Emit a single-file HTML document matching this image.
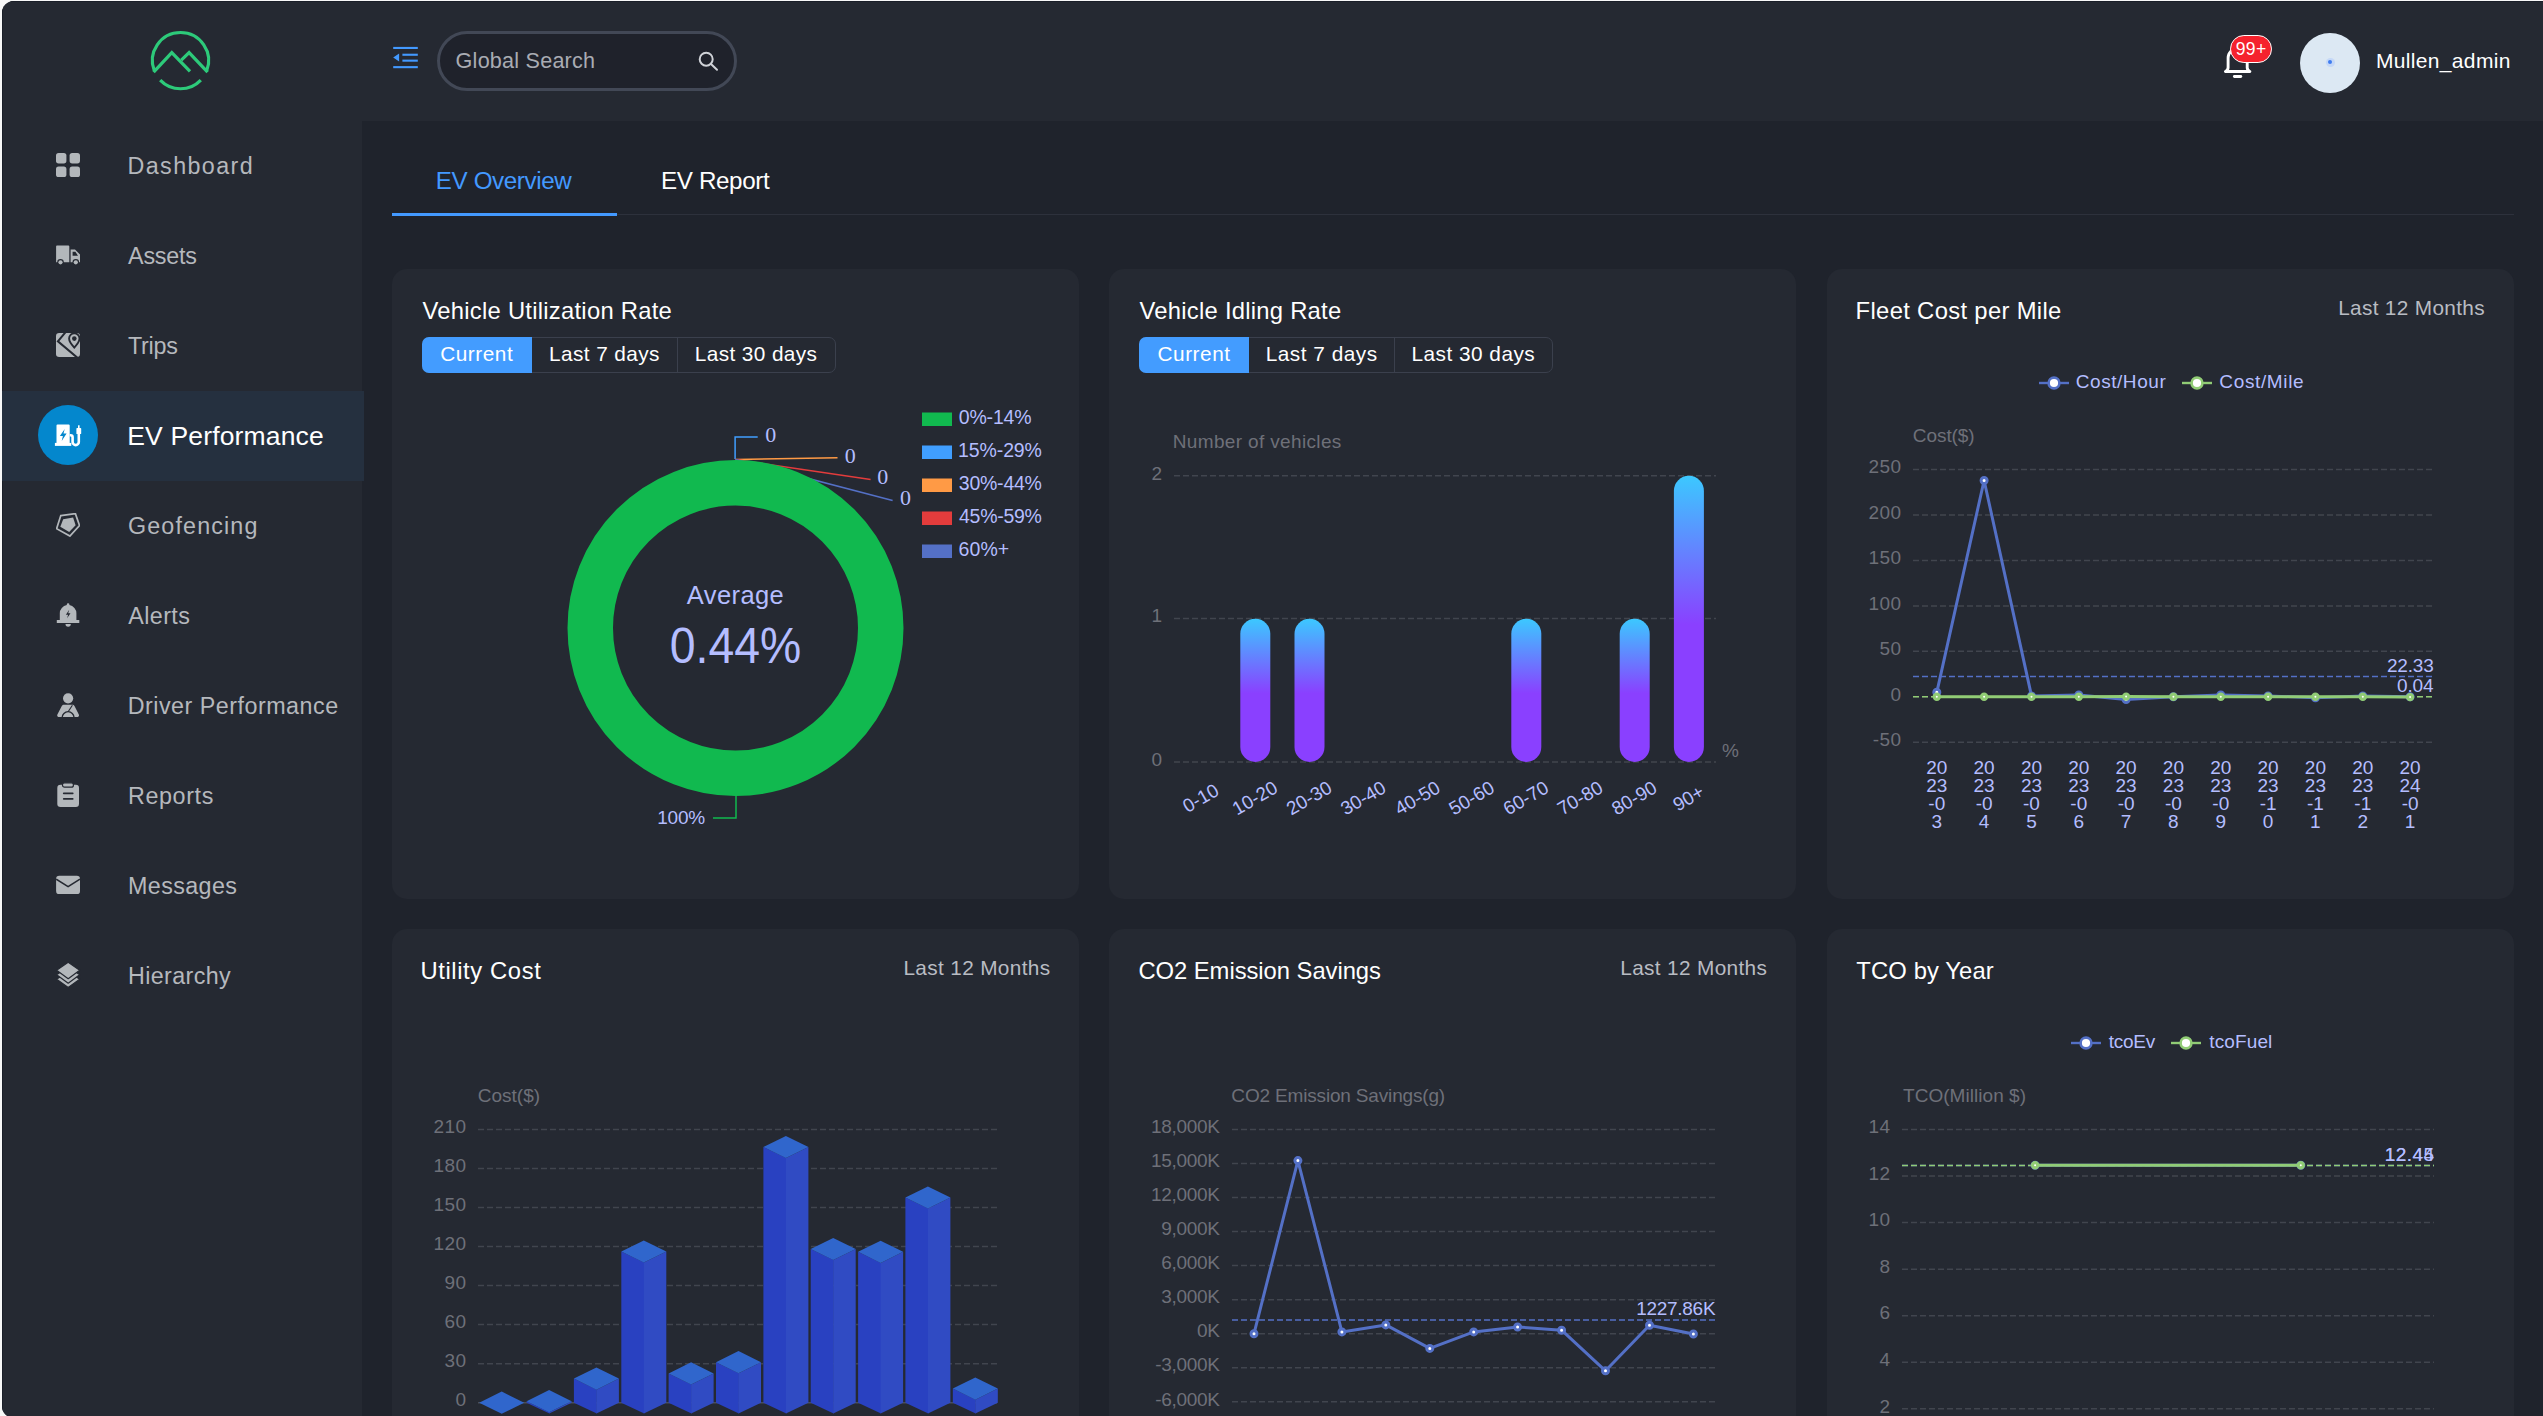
<!DOCTYPE html><html lang="en"><head><meta charset="utf-8"><title>EV Performance</title>
<style>
*{box-sizing:border-box;margin:0;padding:0}
html,body{width:2543px;height:1416px;overflow:hidden;background:#f8f8f8}
body{font-family:"Liberation Sans", sans-serif;color:#fff;position:relative}
#frame{position:absolute;left:2px;top:1px;width:2543px;height:1417px;background:#1f232c;border-radius:12px 0 0 12px;overflow:hidden}
#pg{position:absolute;left:-2px;top:-1px;width:2543px;height:1416px}
.a{position:absolute}
.t{position:absolute;white-space:nowrap}
.card{position:absolute;background:#252932;border-radius:15px;width:687px}
.bg{position:absolute;height:36px;border:1px solid #3b404d;border-radius:7px}
.bg i{position:absolute;top:0;width:1px;height:34px;background:#3b404d}
.bg b{position:absolute;left:-1px;top:-1px;height:36px;background:#439cff;border-radius:7px 0 0 7px}
svg text{font-family:"Liberation Sans", sans-serif}
</style></head><body><div id="frame"><div id="pg">
<div class="a" style="left:0;top:0;width:362px;height:1416px;background:#252932"></div>
<div class="a" style="left:362px;top:0;width:2181px;height:121px;background:#252932"></div>
<div class="a" style="left:2px;top:1px;width:2543px;height:1px;background:#1a1e28"></div>
<div class="a" style="left:2px;top:1px;width:1px;height:1416px;background:#1a1e28"></div>
<svg class="a" style="left:0;top:0" width="362" height="121" fill="none" stroke="#2dca7a" stroke-width="3.2"><path d="M154.4 71.0A28.1 28.1 0 1 1 206.6 71.0"/><path d="M160.2 80.1A28.1 28.1 0 0 0 200.8 80.1"/><path d="M153.6 72.2L171.8 52.6L190 71.4"/><path d="M181.3 60.2L189.1 52.6L207.6 72.2"/></svg>
<div class="a" style="left:56px;top:152.8px;height:24px"><svg width="24" height="24" viewBox="0 0 24 24" fill="#b3b7bb"><rect x="0" y="0" width="10.4" height="10.4" rx="2.6"/><rect x="13.6" y="0" width="10.4" height="10.4" rx="2.6"/><rect x="0" y="13.6" width="10.4" height="10.4" rx="2.6"/><rect x="13.6" y="13.6" width="10.4" height="10.4" rx="2.6"/></svg></div>
<div class="t" style="left:127.54px;top:146.07px;line-height:40px;font-size:23.3px;letter-spacing:1.398px;color:#b5b8bd">Dashboard</div>
<div class="a" style="left:56px;top:242.8px;height:24px"><svg width="24" height="24" viewBox="0 0 24 24" fill="#b3b7bb"><path d="M1 2.500h11.400a.9.9 0 0 1 .9.900V19.200H.1V3.400a.9.900 0 0 1 .9-.9z"/><path d="M14.600 6.500H19l5 5.100v7.600h-9.400zM16.600 8.700v4h5.400l-2.600-4z" fill-rule="evenodd"/><circle cx="4.500" cy="19.300" r="3.300" fill="#252932"/><circle cx="19.800" cy="19.300" r="3.300" fill="#252932"/><circle cx="4.500" cy="19.300" r="2.100"/><circle cx="19.800" cy="19.300" r="2.100"/></svg></div>
<div class="t" style="left:128.10px;top:236.07px;line-height:40px;font-size:23.3px;letter-spacing:-0.217px;color:#b5b8bd">Assets</div>
<div class="a" style="left:56px;top:332.8px;height:24px"><svg width="24" height="24" viewBox="0 0 24 24" fill="#b3b7bb"><rect x="0" y="0" width="24" height="24" rx="3.200"/><path d="M9.400 -0.600L1.900 8.300 21.200 24.600" fill="none" stroke="#252932" stroke-width="2"/><path d="M18.300 .4a5.200 5.200 0 0 0-5.200 5.200c0 3.500 5.200 9 5.200 9s5.200-5.500 5.200-9A5.200 5.200 0 0 0 18.300 .4z" stroke="#252932" stroke-width="1.900"/><circle cx="18.300" cy="5.600" r="2.300" fill="#252932"/></svg></div>
<div class="t" style="left:127.93px;top:326.07px;line-height:40px;font-size:23.3px;letter-spacing:-0.232px;color:#b5b8bd">Trips</div>
<div class="a" style="left:2px;top:391px;width:362px;height:90px;background:#25303f"></div>
<div class="a" style="left:38px;top:405px;width:60px;height:60px;border-radius:50%;background:#0487cd"></div>
<div class="a" style="left:55px;top:422px;width:26px;height:26px"><svg width="26" height="26" viewBox="0 0 26 26" fill="#fff" style="overflow:visible"><path d="M2.500 2.400h11.200a1 1 0 0 1 1 1V21.500H1.500V3.400a1 1 0 0 1 1-1z"/><rect x="-.1" y="20.900" width="16.400" height="3"/><path d="M9.700 6.900L4.900 13.900h3l-1.200 5 4.900-7.300H8.500z" fill="#0487cd"/><path d="M14.700 13.300h.9a2 2 0 0 1 2 2v4.700a3.100 3.100 0 0 0 6.200 0v-8.500" fill="none" stroke="#fff" stroke-width="2.600"/><rect x="21.400" y="6.100" width="4.800" height="6" rx=".7"/><rect x="23" y="3.300" width="1.600" height="3.200"/></svg></div>
<div class="t" style="left:127.28px;top:416.10px;line-height:40px;font-size:26.5px;letter-spacing:0.159px;color:#fff">EV Performance</div>
<div class="a" style="left:56px;top:512.8px;height:24px"><svg width="24" height="24" viewBox="0 0 24 24" fill="#b3b7bb"><path d="M4.800 2.600L19.400 .6 23.500 12.500 13.900 23.100 .6 15.700z" fill="none" stroke="#b3b7bb" stroke-width="1.700"/><path d="M7.200 6.300L17.100 4.600 19.600 12.200 13.200 19.100 4.300 13.700z"/></svg></div>
<div class="t" style="left:128.03px;top:506.07px;line-height:40px;font-size:23.3px;letter-spacing:1.138px;color:#b5b8bd">Geofencing</div>
<div class="a" style="left:56px;top:602.8px;height:24px"><svg width="24" height="24" viewBox="0 0 24 24" fill="#b3b7bb"><path d="M12.100 .2a1.300 1.300 0 0 1 1.300 1.300v.6a8.300 8.300 0 0 1 7 8.200v6.600h2.900v3.200H.8v-3.200h3v-6.600a8.300 8.300 0 0 1 7-8.200v-.6A1.300 1.300 0 0 1 12.100 .2z"/><path d="M13.200 6.800l-3.300 4.900h2.200l-1 3.600 3.400-5h-2.300z" fill="#252932"/><path d="M9.500 21.100h5.300a2.650 2.650 0 0 1-5.300 0z"/></svg></div>
<div class="t" style="left:128.20px;top:596.07px;line-height:40px;font-size:23.3px;letter-spacing:0.437px;color:#b5b8bd">Alerts</div>
<div class="a" style="left:56px;top:692.8px;height:24px"><svg width="24" height="24" viewBox="0 0 24 24" fill="#b3b7bb"><circle cx="12.100" cy="5.300" r="5.100"/><path d="M8.100 11.700h8.100c1 0 1.800.5 2.300 1.400l4.300 8.300c.7 1.300-.2 2.700-1.600 2.700H3c-1.400 0-2.300-1.400-1.600-2.700l4.400-8.300c.5-.9 1.300-1.400 2.300-1.400z"/><path d="M6.200 24.600a5.900 5.900 0 0 1 11.800 0" fill="none" stroke="#252932" stroke-width="1.300"/><path d="M16.400 12.200L12.100 18.700" stroke="#252932" stroke-width="1.100"/></svg></div>
<div class="t" style="left:127.74px;top:686.07px;line-height:40px;font-size:23.3px;letter-spacing:0.494px;color:#b5b8bd">Driver Performance</div>
<div class="a" style="left:56px;top:782.8px;height:24px"><svg width="24" height="24" viewBox="0 0 24 24" fill="#b3b7bb" style="overflow:visible"><rect x="1.300" y="1.800" width="21.700" height="22.200" rx="3.200"/><rect x="6.500" y="-.2" width="10.900" height="4.400" rx="2" stroke="#252932" stroke-width="1.200"/><rect x="6.900" y="9.600" width="10.700" height="1.700" rx=".8" fill="#252932"/><rect x="6.900" y="15.100" width="10.700" height="1.700" rx=".8" fill="#252932"/></svg></div>
<div class="t" style="left:127.94px;top:776.07px;line-height:40px;font-size:23.3px;letter-spacing:0.629px;color:#b5b8bd">Reports</div>
<div class="a" style="left:56px;top:872.8px;height:24px"><svg width="24" height="24" viewBox="0 0 24 24" fill="#b3b7bb"><rect x=".1" y="2.800" width="23.900" height="18.300" rx="3.200"/><path d="M.2 6.100L12.100 13.700 24 6.100" fill="none" stroke="#252932" stroke-width="1.600" stroke-linejoin="round"/></svg></div>
<div class="t" style="left:127.94px;top:866.07px;line-height:40px;font-size:23.3px;letter-spacing:0.413px;color:#b5b8bd">Messages</div>
<div class="a" style="left:56px;top:962.8px;height:24px"><svg width="24" height="24" viewBox="0 0 24 24" fill="#b3b7bb" stroke="#252932" stroke-width="1.200" stroke-linejoin="round" style="overflow:visible"><path d="M12.200 8.2L23.700 16.2 12.200 24.6 .6 16.2z"/><path d="M12.200 3.8L23.700 11.8 12.200 20.2 .6 11.8z"/><path d="M12.200 -0.7L23.700 7.3 12.200 15.7 .6 7.3z"/></svg></div>
<div class="t" style="left:127.94px;top:956.07px;line-height:40px;font-size:23.3px;letter-spacing:0.38px;color:#b5b8bd">Hierarchy</div>
<svg class="a" style="left:392px;top:45px" width="28" height="26" viewBox="392 45 28 26" fill="#4399ff"><rect x="393.200" y="46.900" width="24.600" height="2.100"/><rect x="402.400" y="53.700" width="15.400" height="2.100"/><rect x="402.400" y="59.600" width="15.400" height="2.100"/><rect x="393.200" y="66.100" width="24.600" height="2.100"/><path d="M393.200 57.600l5.900-4v8z"/></svg>
<div class="a" style="left:437px;top:31px;width:300px;height:60px;border:3px solid #424856;border-radius:30px;background:#1f222b"></div>
<div class="t" style="left:455.62px;top:40.65px;line-height:40px;font-size:21.6px;letter-spacing:0.216px;color:#a9acb3">Global Search</div>
<svg class="a" style="left:694px;top:47px" width="28" height="28" viewBox="694 47 28 28" fill="none" stroke="#cfd2d7" stroke-width="2"><circle cx="706.200" cy="59.200" r="6.500"/><path d="M711 64l6 5.800" stroke-linecap="round"/></svg>
<svg class="a" style="left:2220px;top:40px" width="36" height="42" viewBox="2220 40 36 42" fill="none" stroke="#fff" stroke-width="2.900" stroke-linejoin="round" stroke-linecap="round"><path d="M2225.400 71.500c1.800-.8 2.700-2 2.700-4V58a9.550 9.550 0 0 1 19.100 0v9.500c0 2 .9 3.200 2.700 4z"/><path d="M2234.400 76.500h6.400"/></svg>
<div class="a" style="left:2230px;top:34.900px;width:42.300px;height:27.800px;border-radius:13.900px;background:#f5222d;border:1.800px solid #fff"></div>
<div class="t" style="left:2235.71px;top:29.10px;line-height:40px;font-size:17.5px;letter-spacing:0.378px;color:#fff">99+</div>
<div class="a" style="left:2300px;top:33px;width:60px;height:60px;border-radius:50%;background:#dce8f3"></div>
<div class="a" style="left:2325.500px;top:57.500px;width:9px;height:9px;border-radius:50%;background:#c5d8f7"></div>
<div class="a" style="left:2328px;top:60px;width:4px;height:4px;border-radius:50%;background:#3f7cf0"></div>
<div class="t" style="left:2375.92px;top:41.04px;line-height:40px;font-size:21px;letter-spacing:0.343px;color:#fff">Mullen_admin</div>
<div class="a" style="left:392px;top:214px;width:2122px;height:1px;background:#2d313c"></div>
<div class="a" style="left:392px;top:213px;width:225px;height:3px;background:#4399ff"></div>
<div class="t" style="left:435.86px;top:161.28px;line-height:40px;font-size:24.2px;letter-spacing:-0.39px;color:#4399ff">EV Overview</div>
<div class="t" style="left:661.06px;top:161.28px;line-height:40px;font-size:24.2px;letter-spacing:-0.371px;color:#fff">EV Report</div>
<div class="card" style="left:392px;top:269px;height:630px"></div>
<div class="card" style="left:1109px;top:269px;height:630px"></div>
<div class="card" style="left:1827px;top:269px;height:630px"></div>
<div class="card" style="left:392px;top:929px;height:520px"></div>
<div class="card" style="left:1109px;top:929px;height:520px"></div>
<div class="card" style="left:1827px;top:929px;height:520px"></div>
<div class="t" style="left:422.54px;top:290.97px;line-height:40px;font-size:23.8px;letter-spacing:0.255px;color:#fff">Vehicle Utilization Rate</div>
<div class="t" style="left:1139.54px;top:290.97px;line-height:40px;font-size:23.8px;letter-spacing:0.253px;color:#fff">Vehicle Idling Rate</div>
<div class="t" style="left:1855.60px;top:290.97px;line-height:40px;font-size:23.8px;letter-spacing:0.335px;color:#fff">Fleet Cost per Mile</div>
<div class="t" style="left:420.41px;top:950.97px;line-height:40px;font-size:23.8px;letter-spacing:0.609px;color:#fff">Utility Cost</div>
<div class="t" style="left:1138.41px;top:950.97px;line-height:40px;font-size:23.8px;letter-spacing:-0.042px;color:#fff">CO2 Emission Savings</div>
<div class="t" style="left:1856.32px;top:950.97px;line-height:40px;font-size:23.8px;letter-spacing:0.118px;color:#fff">TCO by Year</div>
<div class="t" style="left:2338.14px;top:288.24px;line-height:40px;font-size:20.8px;letter-spacing:0.329px;color:#b9bcc3">Last 12 Months</div>
<div class="t" style="left:903.44px;top:948.24px;line-height:40px;font-size:20.8px;letter-spacing:0.344px;color:#b9bcc3">Last 12 Months</div>
<div class="t" style="left:1620.24px;top:948.24px;line-height:40px;font-size:20.8px;letter-spacing:0.344px;color:#b9bcc3">Last 12 Months</div>
<div class="bg" style="left:422px;top:337px;width:414px"><b style="width:110px"></b><i style="left:254px"></i></div>
<div class="t" style="left:440.26px;top:333.64px;line-height:40px;font-size:20.8px;letter-spacing:0.513px;color:#fff">Current</div>
<div class="t" style="left:549.04px;top:333.64px;line-height:40px;font-size:20.8px;letter-spacing:0.41px;color:#fff">Last 7 days</div>
<div class="t" style="left:694.84px;top:333.64px;line-height:40px;font-size:20.8px;letter-spacing:0.387px;color:#fff">Last 30 days</div>
<div class="bg" style="left:1139px;top:337px;width:414px"><b style="width:110px"></b><i style="left:254px"></i></div>
<div class="t" style="left:1157.46px;top:333.64px;line-height:40px;font-size:20.8px;letter-spacing:0.546px;color:#fff">Current</div>
<div class="t" style="left:1265.64px;top:333.64px;line-height:40px;font-size:20.8px;letter-spacing:0.51px;color:#fff">Last 7 days</div>
<div class="t" style="left:1411.44px;top:333.64px;line-height:40px;font-size:20.8px;letter-spacing:0.487px;color:#fff">Last 30 days</div>
<svg class="a" style="left:0;top:0" width="2543" height="1416" viewBox="0 0 2543 1416"><defs><linearGradient id="gb" x1="0" y1="0" x2="0" y2="1"><stop offset="0" stop-color="#3cc8ff"/><stop offset="0.52" stop-color="#8a40ff"/><stop offset="1" stop-color="#8a40ff"/></linearGradient></defs><polyline points="735.1,459 735.1,437.1 757.700,437.1" fill="none" stroke="#409eff" stroke-width="1.500"/><polyline points="735.5,459.5 837.5,457.700" fill="none" stroke="#ff9a45" stroke-width="1.500"/><polyline points="735.5,459.5 870.600,479.5" fill="none" stroke="#e33c3c" stroke-width="1.500"/><polyline points="735.5,459.5 892.600,500.400" fill="none" stroke="#5470c6" stroke-width="1.500"/><circle cx="735.5" cy="628.1" r="145.25" fill="none" stroke="#11b94f" stroke-width="45.5"/><text x="771.0" y="434.0" font-size="22" fill="#b4bdff" text-anchor="middle" dominant-baseline="central" style="font-family:'Liberation Serif', serif;letter-spacing:0.4px">0</text><text x="850.5" y="455.2" font-size="22" fill="#b4bdff" text-anchor="middle" dominant-baseline="central" style="font-family:'Liberation Serif', serif;letter-spacing:0.4px">0</text><text x="883.0" y="476.6" font-size="22" fill="#b4bdff" text-anchor="middle" dominant-baseline="central" style="font-family:'Liberation Serif', serif;letter-spacing:0.4px">0</text><text x="905.6" y="497.2" font-size="22" fill="#b4bdff" text-anchor="middle" dominant-baseline="central" style="font-family:'Liberation Serif', serif;letter-spacing:0.4px">0</text><text x="735.5" y="595.0" font-size="25.5" fill="#b4bdff" text-anchor="middle" dominant-baseline="central" style="letter-spacing:0.4px">Average</text><text x="735.5" y="645.4" font-size="49.3" fill="#b4bdff" text-anchor="middle" dominant-baseline="central" textLength="131.5" lengthAdjust="spacingAndGlyphs">0.44%</text><polyline points="736,796 736,818 713,818" fill="none" stroke="#11b94f" stroke-width="1.500"/><text x="657.18" y="817.5" font-size="19" fill="#b4bdff" dominant-baseline="central" style="letter-spacing:-0.167px">100%</text><rect x="922" y="412.5" width="30" height="13.500" fill="#11b94f"/><text x="958.77" y="417.0" font-size="19.5" fill="#b4bdff" dominant-baseline="central" style="letter-spacing:-0.179px">0%-14%</text><rect x="922" y="445.5" width="30" height="13.500" fill="#409eff"/><text x="958.04" y="450.0" font-size="19.5" fill="#b4bdff" dominant-baseline="central" style="letter-spacing:-0.106px">15%-29%</text><rect x="922" y="478.5" width="30" height="13.500" fill="#ff9a45"/><text x="958.77" y="483.0" font-size="19.5" fill="#b4bdff" dominant-baseline="central" style="letter-spacing:-0.228px">30%-44%</text><rect x="922" y="511.5" width="30" height="13.500" fill="#e33c3c"/><text x="959.06" y="516.0" font-size="19.5" fill="#b4bdff" dominant-baseline="central" style="letter-spacing:-0.277px">45%-59%</text><rect x="922" y="544.5" width="30" height="13.500" fill="#5470c6"/><text x="958.52" y="549.0" font-size="19.5" fill="#b4bdff" dominant-baseline="central" style="letter-spacing:0.098px">60%+</text><text x="1172.78" y="441.0" font-size="19" fill="#6e7079" dominant-baseline="central" style="letter-spacing:0.35px">Number of vehicles</text><line x1="1174" y1="761.9" x2="1716" y2="761.9" stroke="#41454e" stroke-width="1.500" stroke-dasharray="6 3"/><line x1="1174" y1="618.4" x2="1716" y2="618.4" stroke="#41454e" stroke-width="1.500" stroke-dasharray="6 3"/><line x1="1174" y1="475.8" x2="1716" y2="475.8" stroke="#41454e" stroke-width="1.500" stroke-dasharray="6 3"/><text x="1162.4" y="759.1" font-size="19" fill="#6e7079" text-anchor="end" dominant-baseline="central" style="letter-spacing:0.4px">0</text><text x="1162.4" y="615.6" font-size="19" fill="#6e7079" text-anchor="end" dominant-baseline="central" style="letter-spacing:0.4px">1</text><text x="1162.4" y="473.0" font-size="19" fill="#6e7079" text-anchor="end" dominant-baseline="central" style="letter-spacing:0.4px">2</text><text x="1200.6" y="798" font-size="19" fill="#b4bdff" text-anchor="middle" dominant-baseline="central" transform="rotate(-30 1200.6 798)">0-10</text><rect x="1240.3" y="618.8" width="30" height="143.1" rx="15" fill="url(#gb)"/><text x="1254.8" y="798" font-size="19" fill="#b4bdff" text-anchor="middle" dominant-baseline="central" transform="rotate(-30 1254.8 798)">10-20</text><rect x="1294.5" y="618.8" width="30" height="143.1" rx="15" fill="url(#gb)"/><text x="1309.0" y="798" font-size="19" fill="#b4bdff" text-anchor="middle" dominant-baseline="central" transform="rotate(-30 1309.0 798)">20-30</text><text x="1363.2" y="798" font-size="19" fill="#b4bdff" text-anchor="middle" dominant-baseline="central" transform="rotate(-30 1363.2 798)">30-40</text><text x="1417.4" y="798" font-size="19" fill="#b4bdff" text-anchor="middle" dominant-baseline="central" transform="rotate(-30 1417.4 798)">40-50</text><text x="1471.6" y="798" font-size="19" fill="#b4bdff" text-anchor="middle" dominant-baseline="central" transform="rotate(-30 1471.6 798)">50-60</text><rect x="1511.3" y="618.8" width="30" height="143.1" rx="15" fill="url(#gb)"/><text x="1525.8" y="798" font-size="19" fill="#b4bdff" text-anchor="middle" dominant-baseline="central" transform="rotate(-30 1525.8 798)">60-70</text><text x="1580.0" y="798" font-size="19" fill="#b4bdff" text-anchor="middle" dominant-baseline="central" transform="rotate(-30 1580.0 798)">70-80</text><rect x="1619.7" y="618.8" width="30" height="143.1" rx="15" fill="url(#gb)"/><text x="1634.2" y="798" font-size="19" fill="#b4bdff" text-anchor="middle" dominant-baseline="central" transform="rotate(-30 1634.2 798)">80-90</text><rect x="1673.9" y="475.8" width="30" height="286.1" rx="15" fill="url(#gb)"/><text x="1688.4" y="798" font-size="19" fill="#b4bdff" text-anchor="middle" dominant-baseline="central" transform="rotate(-30 1688.4 798)">90+</text><text x="1722.0" y="750.0" font-size="19" fill="#6e7079" text-anchor="start" dominant-baseline="central" style="letter-spacing:0.4px">%</text><line x1="2039" y1="383" x2="2069" y2="383" stroke="#5470c6" stroke-width="2.400"/><circle cx="2054" cy="383" r="5.400" fill="#fff" stroke="#5470c6" stroke-width="2.600"/><text x="2075.75" y="381.5" font-size="19" fill="#b4bdff" dominant-baseline="central" style="letter-spacing:0.554px">Cost/Hour</text><line x1="2182" y1="383" x2="2212" y2="383" stroke="#91cc75" stroke-width="2.400"/><circle cx="2197" cy="383" r="5.400" fill="#fff" stroke="#91cc75" stroke-width="2.600"/><text x="2219.35" y="381.5" font-size="19" fill="#b4bdff" dominant-baseline="central" style="letter-spacing:0.634px">Cost/Mile</text><text x="1912.85" y="435.0" font-size="19" fill="#6e7079" dominant-baseline="central" style="letter-spacing:-0.08px">Cost($)</text><line x1="1913" y1="469.5" x2="2432" y2="469.5" stroke="#41454e" stroke-width="1.500" stroke-dasharray="6 3"/><line x1="1913" y1="515.0" x2="2432" y2="515.0" stroke="#41454e" stroke-width="1.500" stroke-dasharray="6 3"/><line x1="1913" y1="560.4" x2="2432" y2="560.4" stroke="#41454e" stroke-width="1.500" stroke-dasharray="6 3"/><line x1="1913" y1="605.9" x2="2432" y2="605.9" stroke="#41454e" stroke-width="1.500" stroke-dasharray="6 3"/><line x1="1913" y1="651.3" x2="2432" y2="651.3" stroke="#41454e" stroke-width="1.500" stroke-dasharray="6 3"/><line x1="1913" y1="696.8" x2="2432" y2="696.8" stroke="#41454e" stroke-width="1.500" stroke-dasharray="6 3"/><line x1="1913" y1="742.2" x2="2432" y2="742.2" stroke="#41454e" stroke-width="1.500" stroke-dasharray="6 3"/><text x="1901.4" y="466.7" font-size="19" fill="#6e7079" text-anchor="end" dominant-baseline="central" style="letter-spacing:0.4px">250</text><text x="1901.4" y="512.2" font-size="19" fill="#6e7079" text-anchor="end" dominant-baseline="central" style="letter-spacing:0.4px">200</text><text x="1901.4" y="557.6" font-size="19" fill="#6e7079" text-anchor="end" dominant-baseline="central" style="letter-spacing:0.4px">150</text><text x="1901.4" y="603.1" font-size="19" fill="#6e7079" text-anchor="end" dominant-baseline="central" style="letter-spacing:0.4px">100</text><text x="1901.4" y="648.5" font-size="19" fill="#6e7079" text-anchor="end" dominant-baseline="central" style="letter-spacing:0.4px">50</text><text x="1901.4" y="694.0" font-size="19" fill="#6e7079" text-anchor="end" dominant-baseline="central" style="letter-spacing:0.4px">0</text><text x="1901.4" y="739.5" font-size="19" fill="#6e7079" text-anchor="end" dominant-baseline="central" style="letter-spacing:0.4px">-50</text><line x1="1913" y1="676.5" x2="2432" y2="676.5" stroke="#5470c6" stroke-width="1.500" stroke-dasharray="6 3"/><line x1="1913" y1="696.8" x2="2432" y2="696.8" stroke="#91cc75" stroke-width="1.500" stroke-dasharray="6 3"/><polyline points="1936.8,692.3 1984.1,480.5 2031.5,695.9 2078.8,695.0 2126.1,699.5 2173.4,696.8 2220.8,695.0 2268.1,695.9 2315.4,697.7 2362.8,695.9 2410.1,696.8" fill="none" stroke="#5470c6" stroke-width="3" stroke-linejoin="round"/><circle cx="1936.8" cy="692.3" r="3" fill="#fff" stroke="#5470c6" stroke-width="3"/><circle cx="1984.1" cy="480.5" r="3" fill="#fff" stroke="#5470c6" stroke-width="3"/><circle cx="2031.5" cy="695.9" r="3" fill="#fff" stroke="#5470c6" stroke-width="3"/><circle cx="2078.8" cy="695.0" r="3" fill="#fff" stroke="#5470c6" stroke-width="3"/><circle cx="2126.1" cy="699.5" r="3" fill="#fff" stroke="#5470c6" stroke-width="3"/><circle cx="2173.4" cy="696.8" r="3" fill="#fff" stroke="#5470c6" stroke-width="3"/><circle cx="2220.8" cy="695.0" r="3" fill="#fff" stroke="#5470c6" stroke-width="3"/><circle cx="2268.1" cy="695.9" r="3" fill="#fff" stroke="#5470c6" stroke-width="3"/><circle cx="2315.4" cy="697.7" r="3" fill="#fff" stroke="#5470c6" stroke-width="3"/><circle cx="2362.8" cy="695.9" r="3" fill="#fff" stroke="#5470c6" stroke-width="3"/><circle cx="2410.1" cy="696.8" r="3" fill="#fff" stroke="#5470c6" stroke-width="3"/><polyline points="1936.8,696.7 1984.1,696.8 2031.5,696.8 2078.8,696.8 2126.1,696.6 2173.4,696.8 2220.8,696.8 2268.1,696.8 2315.4,696.7 2362.8,696.8 2410.1,697.1" fill="none" stroke="#91cc75" stroke-width="3" stroke-linejoin="round"/><circle cx="1936.8" cy="696.7" r="2.6" fill="#fff" stroke="#91cc75" stroke-width="3.2"/><circle cx="1984.1" cy="696.8" r="2.6" fill="#fff" stroke="#91cc75" stroke-width="3.2"/><circle cx="2031.5" cy="696.8" r="2.6" fill="#fff" stroke="#91cc75" stroke-width="3.2"/><circle cx="2078.8" cy="696.8" r="2.6" fill="#fff" stroke="#91cc75" stroke-width="3.2"/><circle cx="2126.1" cy="696.6" r="2.6" fill="#fff" stroke="#91cc75" stroke-width="3.2"/><circle cx="2173.4" cy="696.8" r="2.6" fill="#fff" stroke="#91cc75" stroke-width="3.2"/><circle cx="2220.8" cy="696.8" r="2.6" fill="#fff" stroke="#91cc75" stroke-width="3.2"/><circle cx="2268.1" cy="696.8" r="2.6" fill="#fff" stroke="#91cc75" stroke-width="3.2"/><circle cx="2315.4" cy="696.7" r="2.6" fill="#fff" stroke="#91cc75" stroke-width="3.2"/><circle cx="2362.8" cy="696.8" r="2.6" fill="#fff" stroke="#91cc75" stroke-width="3.2"/><circle cx="2410.1" cy="697.1" r="2.6" fill="#fff" stroke="#91cc75" stroke-width="3.2"/><text x="2386.95" y="665.0" font-size="19" fill="#b4bdff" dominant-baseline="central" style="letter-spacing:-0.198px">22.33</text><text x="2397.09" y="685.2" font-size="19" fill="#b4bdff" dominant-baseline="central" style="letter-spacing:-0.173px">0.04</text><text x="1936.8" y="767.0" font-size="19" fill="#b4bdff" text-anchor="middle" dominant-baseline="central">20</text><text x="1936.8" y="785.0" font-size="19" fill="#b4bdff" text-anchor="middle" dominant-baseline="central">23</text><text x="1936.8" y="803.0" font-size="19" fill="#b4bdff" text-anchor="middle" dominant-baseline="central">-0</text><text x="1936.8" y="821.0" font-size="19" fill="#b4bdff" text-anchor="middle" dominant-baseline="central">3</text><text x="1984.1" y="767.0" font-size="19" fill="#b4bdff" text-anchor="middle" dominant-baseline="central">20</text><text x="1984.1" y="785.0" font-size="19" fill="#b4bdff" text-anchor="middle" dominant-baseline="central">23</text><text x="1984.1" y="803.0" font-size="19" fill="#b4bdff" text-anchor="middle" dominant-baseline="central">-0</text><text x="1984.1" y="821.0" font-size="19" fill="#b4bdff" text-anchor="middle" dominant-baseline="central">4</text><text x="2031.5" y="767.0" font-size="19" fill="#b4bdff" text-anchor="middle" dominant-baseline="central">20</text><text x="2031.5" y="785.0" font-size="19" fill="#b4bdff" text-anchor="middle" dominant-baseline="central">23</text><text x="2031.5" y="803.0" font-size="19" fill="#b4bdff" text-anchor="middle" dominant-baseline="central">-0</text><text x="2031.5" y="821.0" font-size="19" fill="#b4bdff" text-anchor="middle" dominant-baseline="central">5</text><text x="2078.8" y="767.0" font-size="19" fill="#b4bdff" text-anchor="middle" dominant-baseline="central">20</text><text x="2078.8" y="785.0" font-size="19" fill="#b4bdff" text-anchor="middle" dominant-baseline="central">23</text><text x="2078.8" y="803.0" font-size="19" fill="#b4bdff" text-anchor="middle" dominant-baseline="central">-0</text><text x="2078.8" y="821.0" font-size="19" fill="#b4bdff" text-anchor="middle" dominant-baseline="central">6</text><text x="2126.1" y="767.0" font-size="19" fill="#b4bdff" text-anchor="middle" dominant-baseline="central">20</text><text x="2126.1" y="785.0" font-size="19" fill="#b4bdff" text-anchor="middle" dominant-baseline="central">23</text><text x="2126.1" y="803.0" font-size="19" fill="#b4bdff" text-anchor="middle" dominant-baseline="central">-0</text><text x="2126.1" y="821.0" font-size="19" fill="#b4bdff" text-anchor="middle" dominant-baseline="central">7</text><text x="2173.4" y="767.0" font-size="19" fill="#b4bdff" text-anchor="middle" dominant-baseline="central">20</text><text x="2173.4" y="785.0" font-size="19" fill="#b4bdff" text-anchor="middle" dominant-baseline="central">23</text><text x="2173.4" y="803.0" font-size="19" fill="#b4bdff" text-anchor="middle" dominant-baseline="central">-0</text><text x="2173.4" y="821.0" font-size="19" fill="#b4bdff" text-anchor="middle" dominant-baseline="central">8</text><text x="2220.8" y="767.0" font-size="19" fill="#b4bdff" text-anchor="middle" dominant-baseline="central">20</text><text x="2220.8" y="785.0" font-size="19" fill="#b4bdff" text-anchor="middle" dominant-baseline="central">23</text><text x="2220.8" y="803.0" font-size="19" fill="#b4bdff" text-anchor="middle" dominant-baseline="central">-0</text><text x="2220.8" y="821.0" font-size="19" fill="#b4bdff" text-anchor="middle" dominant-baseline="central">9</text><text x="2268.1" y="767.0" font-size="19" fill="#b4bdff" text-anchor="middle" dominant-baseline="central">20</text><text x="2268.1" y="785.0" font-size="19" fill="#b4bdff" text-anchor="middle" dominant-baseline="central">23</text><text x="2268.1" y="803.0" font-size="19" fill="#b4bdff" text-anchor="middle" dominant-baseline="central">-1</text><text x="2268.1" y="821.0" font-size="19" fill="#b4bdff" text-anchor="middle" dominant-baseline="central">0</text><text x="2315.4" y="767.0" font-size="19" fill="#b4bdff" text-anchor="middle" dominant-baseline="central">20</text><text x="2315.4" y="785.0" font-size="19" fill="#b4bdff" text-anchor="middle" dominant-baseline="central">23</text><text x="2315.4" y="803.0" font-size="19" fill="#b4bdff" text-anchor="middle" dominant-baseline="central">-1</text><text x="2315.4" y="821.0" font-size="19" fill="#b4bdff" text-anchor="middle" dominant-baseline="central">1</text><text x="2362.8" y="767.0" font-size="19" fill="#b4bdff" text-anchor="middle" dominant-baseline="central">20</text><text x="2362.8" y="785.0" font-size="19" fill="#b4bdff" text-anchor="middle" dominant-baseline="central">23</text><text x="2362.8" y="803.0" font-size="19" fill="#b4bdff" text-anchor="middle" dominant-baseline="central">-1</text><text x="2362.8" y="821.0" font-size="19" fill="#b4bdff" text-anchor="middle" dominant-baseline="central">2</text><text x="2410.1" y="767.0" font-size="19" fill="#b4bdff" text-anchor="middle" dominant-baseline="central">20</text><text x="2410.1" y="785.0" font-size="19" fill="#b4bdff" text-anchor="middle" dominant-baseline="central">24</text><text x="2410.1" y="803.0" font-size="19" fill="#b4bdff" text-anchor="middle" dominant-baseline="central">-0</text><text x="2410.1" y="821.0" font-size="19" fill="#b4bdff" text-anchor="middle" dominant-baseline="central">1</text><text x="477.65" y="1095.0" font-size="19" fill="#6e7079" dominant-baseline="central" style="letter-spacing:0.02px">Cost($)</text><line x1="478" y1="1129.4" x2="997" y2="1129.4" stroke="#41454e" stroke-width="1.500" stroke-dasharray="6 3"/><line x1="478" y1="1168.4" x2="997" y2="1168.4" stroke="#41454e" stroke-width="1.500" stroke-dasharray="6 3"/><line x1="478" y1="1207.5" x2="997" y2="1207.5" stroke="#41454e" stroke-width="1.500" stroke-dasharray="6 3"/><line x1="478" y1="1246.5" x2="997" y2="1246.5" stroke="#41454e" stroke-width="1.500" stroke-dasharray="6 3"/><line x1="478" y1="1285.5" x2="997" y2="1285.5" stroke="#41454e" stroke-width="1.500" stroke-dasharray="6 3"/><line x1="478" y1="1324.6" x2="997" y2="1324.6" stroke="#41454e" stroke-width="1.500" stroke-dasharray="6 3"/><line x1="478" y1="1363.7" x2="997" y2="1363.7" stroke="#41454e" stroke-width="1.500" stroke-dasharray="6 3"/><line x1="478" y1="1402.7" x2="997" y2="1402.7" stroke="#4a4e57" stroke-width="1.5"/><text x="466.4" y="1126.6" font-size="19" fill="#6e7079" text-anchor="end" dominant-baseline="central" style="letter-spacing:0.4px">210</text><text x="466.4" y="1165.6" font-size="19" fill="#6e7079" text-anchor="end" dominant-baseline="central" style="letter-spacing:0.4px">180</text><text x="466.4" y="1204.7" font-size="19" fill="#6e7079" text-anchor="end" dominant-baseline="central" style="letter-spacing:0.4px">150</text><text x="466.4" y="1243.7" font-size="19" fill="#6e7079" text-anchor="end" dominant-baseline="central" style="letter-spacing:0.4px">120</text><text x="466.4" y="1282.8" font-size="19" fill="#6e7079" text-anchor="end" dominant-baseline="central" style="letter-spacing:0.4px">90</text><text x="466.4" y="1321.8" font-size="19" fill="#6e7079" text-anchor="end" dominant-baseline="central" style="letter-spacing:0.4px">60</text><text x="466.4" y="1360.9" font-size="19" fill="#6e7079" text-anchor="end" dominant-baseline="central" style="letter-spacing:0.4px">30</text><text x="466.4" y="1399.9" font-size="19" fill="#6e7079" text-anchor="end" dominant-baseline="central" style="letter-spacing:0.4px">0</text><path d="M501.7 1391.6L524.2 1402.7L501.7 1413.8L479.2 1402.7z" fill="#3066cc"/><path d="M526.6 1401.2L549.5 1412.3L549.5 1413.5L526.6 1402.7z" fill="#2941c1"/><path d="M571.6 1401.2L549.1 1412.3L549.1 1413.5L571.6 1402.7z" fill="#304bc3"/><path d="M549.1 1390.1L571.6 1401.2L549.1 1412.3L526.6 1401.2z" fill="#3066cc"/><path d="M573.9 1378.6L596.8 1389.7L596.8 1413.5L573.9 1402.7z" fill="#2941c1"/><path d="M618.9 1378.6L596.4 1389.7L596.4 1413.5L618.9 1402.7z" fill="#304bc3"/><path d="M596.4 1367.5L618.9 1378.6L596.4 1389.7L573.9 1378.6z" fill="#3066cc"/><path d="M621.3 1251.5L644.2 1262.6L644.2 1413.5L621.3 1402.7z" fill="#2941c1"/><path d="M666.3 1251.5L643.8 1262.6L643.8 1413.5L666.3 1402.7z" fill="#304bc3"/><path d="M643.8 1240.4L666.3 1251.5L643.8 1262.6L621.3 1251.5z" fill="#3066cc"/><path d="M668.6 1373.4L691.5 1384.5L691.5 1413.5L668.6 1402.7z" fill="#2941c1"/><path d="M713.6 1373.4L691.1 1384.5L691.1 1413.5L713.6 1402.7z" fill="#304bc3"/><path d="M691.1 1362.3L713.6 1373.4L691.1 1384.5L668.6 1373.4z" fill="#3066cc"/><path d="M716.0 1362.2L738.9 1373.3L738.9 1413.5L716.0 1402.7z" fill="#2941c1"/><path d="M761.0 1362.2L738.5 1373.3L738.5 1413.5L761.0 1402.7z" fill="#304bc3"/><path d="M738.5 1351.1L761.0 1362.2L738.5 1373.3L716.0 1362.2z" fill="#3066cc"/><path d="M763.4 1147.0L786.3 1158.1L786.3 1413.5L763.4 1402.7z" fill="#2941c1"/><path d="M808.4 1147.0L785.9 1158.1L785.9 1413.5L808.4 1402.7z" fill="#304bc3"/><path d="M785.9 1135.9L808.4 1147.0L785.9 1158.1L763.4 1147.0z" fill="#3066cc"/><path d="M810.7 1249.0L833.6 1260.1L833.6 1413.5L810.7 1402.7z" fill="#2941c1"/><path d="M855.7 1249.0L833.2 1260.1L833.2 1413.5L855.7 1402.7z" fill="#304bc3"/><path d="M833.2 1237.9L855.7 1249.0L833.2 1260.1L810.7 1249.0z" fill="#3066cc"/><path d="M858.1 1251.8L881.0 1262.9L881.0 1413.5L858.1 1402.7z" fill="#2941c1"/><path d="M903.1 1251.8L880.6 1262.9L880.6 1413.5L903.1 1402.7z" fill="#304bc3"/><path d="M880.6 1240.7L903.1 1251.8L880.6 1262.9L858.1 1251.8z" fill="#3066cc"/><path d="M905.4 1197.5L928.3 1208.6L928.3 1413.5L905.4 1402.7z" fill="#2941c1"/><path d="M950.4 1197.5L927.9 1208.6L927.9 1413.5L950.4 1402.7z" fill="#304bc3"/><path d="M927.9 1186.4L950.4 1197.5L927.9 1208.6L905.4 1197.5z" fill="#3066cc"/><path d="M952.8 1388.6L975.7 1399.7L975.7 1413.5L952.8 1402.7z" fill="#2941c1"/><path d="M997.8 1388.6L975.3 1399.7L975.3 1413.5L997.8 1402.7z" fill="#304bc3"/><path d="M975.3 1377.5L997.8 1388.6L975.3 1399.7L952.8 1388.6z" fill="#3066cc"/><text x="1231.35" y="1095.0" font-size="19" fill="#6e7079" dominant-baseline="central" style="letter-spacing:-0.169px">CO2 Emission Savings(g)</text><line x1="1232" y1="1129.5" x2="1715" y2="1129.5" stroke="#41454e" stroke-width="1.500" stroke-dasharray="6 3"/><line x1="1232" y1="1163.5" x2="1715" y2="1163.5" stroke="#41454e" stroke-width="1.500" stroke-dasharray="6 3"/><line x1="1232" y1="1197.6" x2="1715" y2="1197.6" stroke="#41454e" stroke-width="1.500" stroke-dasharray="6 3"/><line x1="1232" y1="1231.6" x2="1715" y2="1231.6" stroke="#41454e" stroke-width="1.500" stroke-dasharray="6 3"/><line x1="1232" y1="1265.6" x2="1715" y2="1265.6" stroke="#41454e" stroke-width="1.500" stroke-dasharray="6 3"/><line x1="1232" y1="1299.7" x2="1715" y2="1299.7" stroke="#41454e" stroke-width="1.500" stroke-dasharray="6 3"/><line x1="1232" y1="1333.7" x2="1715" y2="1333.7" stroke="#41454e" stroke-width="1.500" stroke-dasharray="6 3"/><line x1="1232" y1="1367.7" x2="1715" y2="1367.7" stroke="#41454e" stroke-width="1.500" stroke-dasharray="6 3"/><line x1="1232" y1="1401.8" x2="1715" y2="1401.8" stroke="#41454e" stroke-width="1.500" stroke-dasharray="6 3"/><text x="1219.7" y="1126.7" font-size="19" fill="#6e7079" text-anchor="end" dominant-baseline="central" style="letter-spacing:-0.3px">18,000K</text><text x="1219.7" y="1160.8" font-size="19" fill="#6e7079" text-anchor="end" dominant-baseline="central" style="letter-spacing:-0.3px">15,000K</text><text x="1219.7" y="1194.8" font-size="19" fill="#6e7079" text-anchor="end" dominant-baseline="central" style="letter-spacing:-0.3px">12,000K</text><text x="1219.7" y="1228.8" font-size="19" fill="#6e7079" text-anchor="end" dominant-baseline="central" style="letter-spacing:-0.3px">9,000K</text><text x="1219.7" y="1262.8" font-size="19" fill="#6e7079" text-anchor="end" dominant-baseline="central" style="letter-spacing:-0.3px">6,000K</text><text x="1219.7" y="1296.9" font-size="19" fill="#6e7079" text-anchor="end" dominant-baseline="central" style="letter-spacing:-0.3px">3,000K</text><text x="1219.7" y="1330.9" font-size="19" fill="#6e7079" text-anchor="end" dominant-baseline="central" style="letter-spacing:-0.3px">0K</text><text x="1219.7" y="1364.9" font-size="19" fill="#6e7079" text-anchor="end" dominant-baseline="central" style="letter-spacing:-0.3px">-3,000K</text><text x="1219.7" y="1399.0" font-size="19" fill="#6e7079" text-anchor="end" dominant-baseline="central" style="letter-spacing:-0.3px">-6,000K</text><line x1="1232" y1="1320.0" x2="1715" y2="1320.0" stroke="#5470c6" stroke-width="1.500" stroke-dasharray="6 3"/><polyline points="1254.0,1333.7 1297.9,1160.6 1341.9,1331.9 1385.8,1324.9 1429.8,1348.4 1473.7,1331.9 1517.6,1327.0 1561.6,1330.2 1605.5,1370.8 1649.5,1325.3 1693.4,1334.0" fill="none" stroke="#5470c6" stroke-width="3" stroke-linejoin="round"/><circle cx="1254.0" cy="1333.7" r="3" fill="#fff" stroke="#5470c6" stroke-width="3"/><circle cx="1297.9" cy="1160.6" r="3" fill="#fff" stroke="#5470c6" stroke-width="3"/><circle cx="1341.9" cy="1331.9" r="3" fill="#fff" stroke="#5470c6" stroke-width="3"/><circle cx="1385.8" cy="1324.9" r="3" fill="#fff" stroke="#5470c6" stroke-width="3"/><circle cx="1429.8" cy="1348.4" r="3" fill="#fff" stroke="#5470c6" stroke-width="3"/><circle cx="1473.7" cy="1331.9" r="3" fill="#fff" stroke="#5470c6" stroke-width="3"/><circle cx="1517.6" cy="1327.0" r="3" fill="#fff" stroke="#5470c6" stroke-width="3"/><circle cx="1561.6" cy="1330.2" r="3" fill="#fff" stroke="#5470c6" stroke-width="3"/><circle cx="1605.5" cy="1370.8" r="3" fill="#fff" stroke="#5470c6" stroke-width="3"/><circle cx="1649.5" cy="1325.3" r="3" fill="#fff" stroke="#5470c6" stroke-width="3"/><circle cx="1693.4" cy="1334.0" r="3" fill="#fff" stroke="#5470c6" stroke-width="3"/><text x="1636.28" y="1308.0" font-size="19" fill="#b4bdff" dominant-baseline="central" style="letter-spacing:-0.293px">1227.86K</text><line x1="2071" y1="1043" x2="2101" y2="1043" stroke="#5470c6" stroke-width="2.400"/><circle cx="2086" cy="1043" r="5.400" fill="#fff" stroke="#5470c6" stroke-width="2.600"/><text x="2108.72" y="1041.5" font-size="19" fill="#b4bdff" dominant-baseline="central" style="letter-spacing:-0.242px">tcoEv</text><line x1="2171" y1="1043" x2="2201" y2="1043" stroke="#91cc75" stroke-width="2.400"/><circle cx="2186" cy="1043" r="5.400" fill="#fff" stroke="#91cc75" stroke-width="2.600"/><text x="2209.22" y="1041.5" font-size="19" fill="#b4bdff" dominant-baseline="central" style="letter-spacing:0.133px">tcoFuel</text><text x="1903.02" y="1095.0" font-size="19" fill="#6e7079" dominant-baseline="central" style="letter-spacing:0.043px">TCO(Million $)</text><line x1="1902" y1="1129.5" x2="2434" y2="1129.5" stroke="#41454e" stroke-width="1.500" stroke-dasharray="6 3"/><line x1="1902" y1="1176.0" x2="2434" y2="1176.0" stroke="#41454e" stroke-width="1.500" stroke-dasharray="6 3"/><line x1="1902" y1="1222.6" x2="2434" y2="1222.6" stroke="#41454e" stroke-width="1.500" stroke-dasharray="6 3"/><line x1="1902" y1="1269.2" x2="2434" y2="1269.2" stroke="#41454e" stroke-width="1.500" stroke-dasharray="6 3"/><line x1="1902" y1="1315.7" x2="2434" y2="1315.7" stroke="#41454e" stroke-width="1.500" stroke-dasharray="6 3"/><line x1="1902" y1="1362.2" x2="2434" y2="1362.2" stroke="#41454e" stroke-width="1.500" stroke-dasharray="6 3"/><line x1="1902" y1="1408.8" x2="2434" y2="1408.8" stroke="#41454e" stroke-width="1.500" stroke-dasharray="6 3"/><text x="1890.4" y="1126.7" font-size="19" fill="#6e7079" text-anchor="end" dominant-baseline="central" style="letter-spacing:0.4px">14</text><text x="1890.4" y="1173.2" font-size="19" fill="#6e7079" text-anchor="end" dominant-baseline="central" style="letter-spacing:0.4px">12</text><text x="1890.4" y="1219.8" font-size="19" fill="#6e7079" text-anchor="end" dominant-baseline="central" style="letter-spacing:0.4px">10</text><text x="1890.4" y="1266.4" font-size="19" fill="#6e7079" text-anchor="end" dominant-baseline="central" style="letter-spacing:0.4px">8</text><text x="1890.4" y="1312.9" font-size="19" fill="#6e7079" text-anchor="end" dominant-baseline="central" style="letter-spacing:0.4px">6</text><text x="1890.4" y="1359.5" font-size="19" fill="#6e7079" text-anchor="end" dominant-baseline="central" style="letter-spacing:0.4px">4</text><text x="1890.4" y="1406.0" font-size="19" fill="#6e7079" text-anchor="end" dominant-baseline="central" style="letter-spacing:0.4px">2</text><line x1="1902" y1="1165.6" x2="2434" y2="1165.6" stroke="#5470c6" stroke-width="1.500" stroke-dasharray="6 3"/><line x1="1902" y1="1165.6" x2="2434" y2="1165.6" stroke="#91cc75" stroke-width="1.500" stroke-dasharray="6 3"/><polyline points="2035.1,1165.3 2300.8,1165.3" fill="none" stroke="#5470c6" stroke-width="3" stroke-linejoin="round"/><circle cx="2035.1" cy="1165.3" r="3" fill="#fff" stroke="#5470c6" stroke-width="3"/><circle cx="2300.8" cy="1165.3" r="3" fill="#fff" stroke="#5470c6" stroke-width="3"/><polyline points="2035.1,1165.3 2300.8,1165.3" fill="none" stroke="#91cc75" stroke-width="3" stroke-linejoin="round"/><circle cx="2035.1" cy="1165.3" r="2.6" fill="#fff" stroke="#91cc75" stroke-width="3.2"/><circle cx="2300.8" cy="1165.3" r="2.6" fill="#fff" stroke="#91cc75" stroke-width="3.2"/><text x="2434.4" y="1154.0" font-size="19" fill="#b4bdff" text-anchor="end" dominant-baseline="central" style="letter-spacing:0.4px">12.44</text><text x="2434.4" y="1154.0" font-size="19" fill="#b4bdff" text-anchor="end" dominant-baseline="central" style="letter-spacing:0.4px">12.45</text></svg>
</div></div></body></html>
